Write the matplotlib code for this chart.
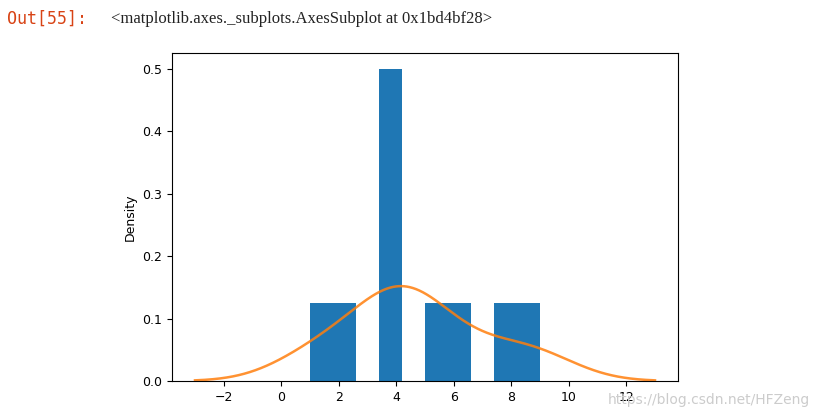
import numpy as np
import matplotlib
matplotlib.use("Agg")
import matplotlib.pyplot as plt

data = [1, 2, 4, 4, 4, 4, 5, 6, 8, 9]
n_bins = 10

fig = plt.figure(figsize=(8.22, 4.12), dpi=100)
fig.text(0.008, 0.955, "Out[55]:", color="#D84315", fontsize=12, family="DejaVu Sans Mono", va="center")
fig.text(0.135, 0.955, "<matplotlib.axes._subplots.AxesSubplot at 0x1bd4bf28>", color="#222222",
         fontsize=12, family="Liberation Serif", va="center")

ax = fig.add_axes([172/822, 1-381/412, (678-172)/822, (381-53)/412])
ax.hist(data, bins=n_bins, density=True, color="#1f77b4")

arr = np.array(data, float)
bw = arr.std(ddof=1) * len(arr) ** (-1 / 5)
xs = np.linspace(arr.min() - 0.5 * np.ptp(arr), arr.max() + 0.5 * np.ptp(arr), 1000)
ys = np.exp(-0.5 * ((xs[:, None] - arr[None, :]) / bw) ** 2).sum(1) / (len(arr) * bw * np.sqrt(2 * np.pi))
ax.plot(xs, ys, color="#ff7f0e", lw=1.8, alpha=0.85)

ax.set_xticks([-2, 0, 2, 4, 6, 8, 10, 12])
ax.set_yticks([0.0, 0.1, 0.2, 0.3, 0.4, 0.5])
ax.set_ylabel("Density", fontsize=9)
ax.tick_params(labelsize=9)
fig.text(0.985, 0.02, "https://blog.csdn.net/HFZeng", color="#cccccc", fontsize=10, ha="right")
fig.savefig("out.png")
